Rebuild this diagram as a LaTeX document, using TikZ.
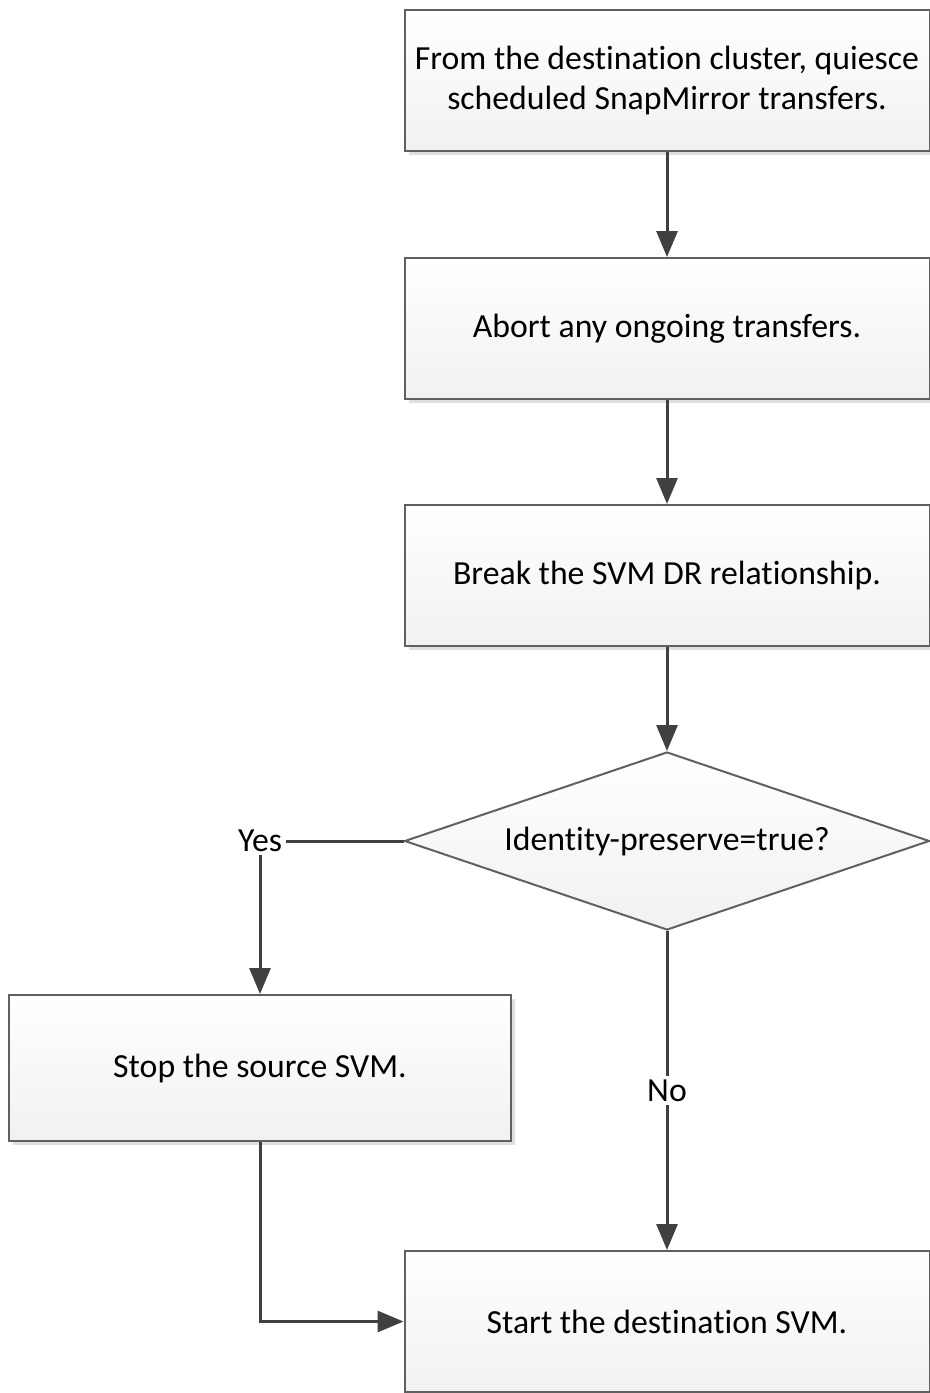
\documentclass[tikz,border=0pt]{standalone}
\usepackage{fontspec}
\setmainfont{Carlito}[Ligatures=NoCommon]
\usepackage{tikz}
\usetikzlibrary{shapes.geometric,arrows.meta,shadows}
\definecolor{linegray}{HTML}{404040}
\definecolor{bordergray}{HTML}{606060}
\tikzstyle{box} = [rectangle, minimum width=10.5cm, minimum height=2.82cm, line width=0.04cm, draw=bordergray, top color=white, bottom color=gray!11, align=center, font=\fontsize{19.2}{23}\selectfont, drop shadow={shadow xshift=0.08cm, shadow yshift=-0.08cm, fill=gray!25, opacity=1}]
\tikzstyle{decision} = [diamond, aspect=3, minimum width=10.5cm, minimum height=3.56cm, inner sep=0pt, line width=0.04cm, draw=bordergray, top color=white, bottom color=gray!11, align=center, font=\fontsize{19.2}{23}\selectfont]
\tikzstyle{line} = [draw=linegray, line width=0.06cm, -{Triangle[width=0.42cm,length=0.52cm]}]
\tikzstyle{label} = [fill=white, inner sep=2pt, font=\fontsize{19.2}{23}\selectfont]

\begin{document}
\begin{tikzpicture}
        \useasboundingbox (0,0) rectangle (18.6,-27.86);

        \node (1) [box] at (13.34,-1.61) {From the destination cluster, quiesce \\ scheduled SnapMirror transfers.};
        \node (2) [box, below of=1, node distance=4.96cm] {Abort any ongoing transfers.};
        \node (3) [box, below of=2, node distance=4.94cm] {Break the SVM DR relationship.};
        \node (dia) [decision, below of=3, node distance=5.31cm] {Identity-preserve=true?};
        \node (stop) [box, below of=dia, node distance=4.54cm, xshift=-8.14cm, minimum width=10.02cm, minimum height=2.92cm] {Stop the source SVM.};
        \node (start) [box, below of=dia, node distance=9.61cm] {Start the destination SVM.};

        \draw[line] (1) -- (2);
        \draw[line] (2) -- (3);
        \draw[line] (3) -- (dia);

        \draw[line] (dia.west) -| node[label] {Yes} (stop.north);
        \draw[line] (dia.south) -- node[label] {No} (start.north);
        \draw[line] (stop.south) |- (start.west);

    \end{tikzpicture}
\end{document}
